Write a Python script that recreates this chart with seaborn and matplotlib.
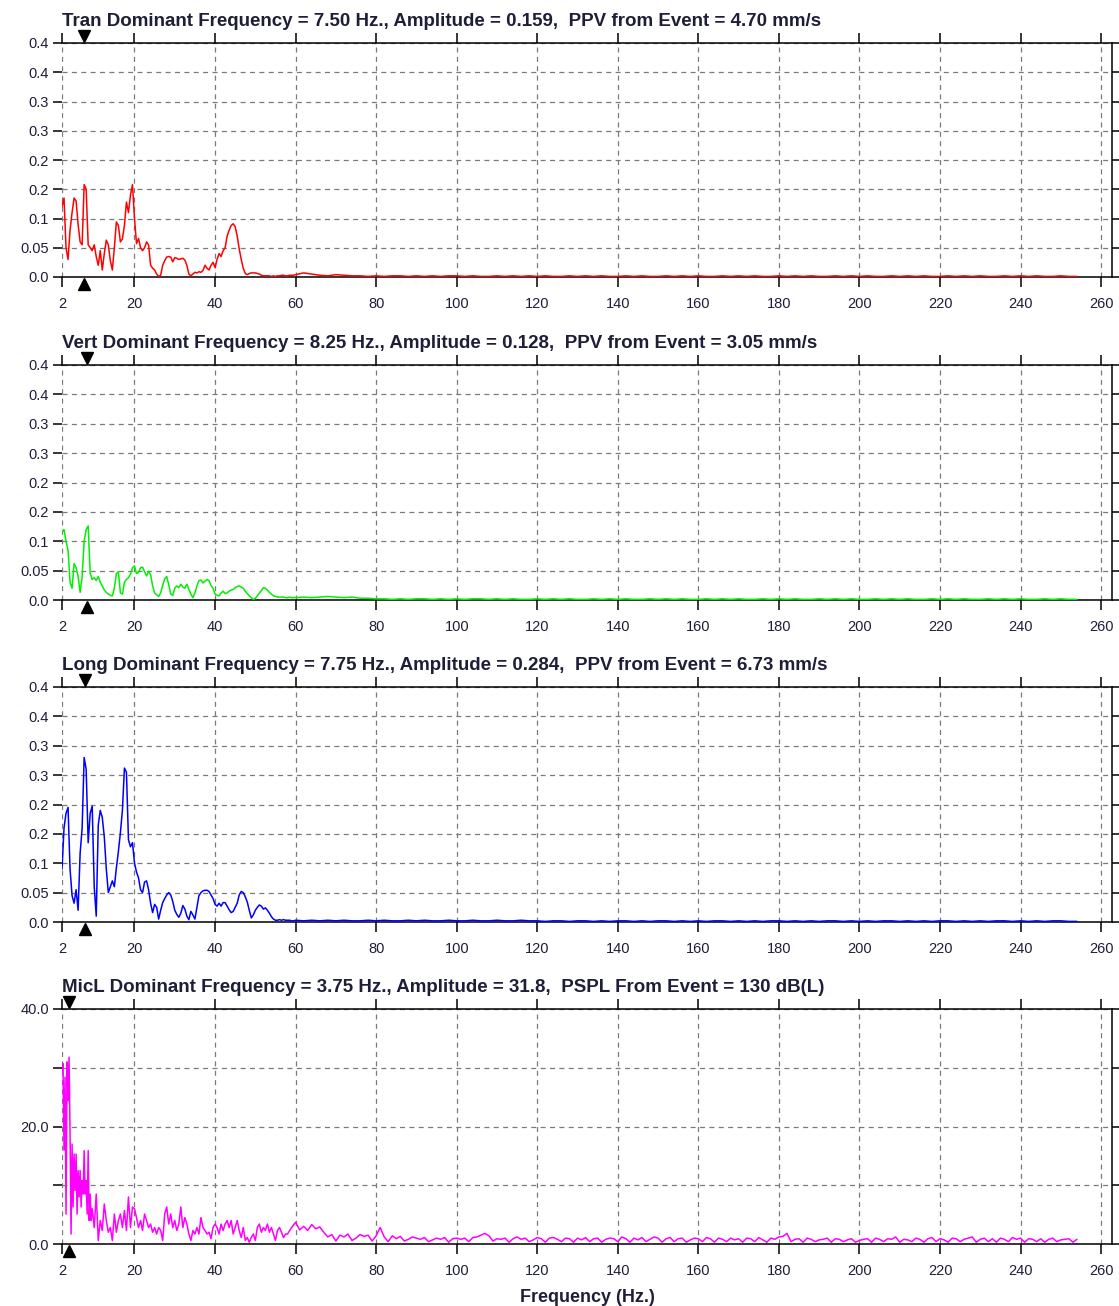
import numpy as np
import pandas as pd
import matplotlib
matplotlib.use("Agg")
import matplotlib.pyplot as plt
import seaborn as sns

# ---------------- data ----------------
titles = [
    "Tran Dominant Frequency = 7.50 Hz., Amplitude = 0.159,  PPV from Event = 4.70 mm/s",
    "Vert Dominant Frequency = 8.25 Hz., Amplitude = 0.128,  PPV from Event = 3.05 mm/s",
    "Long Dominant Frequency = 7.75 Hz., Amplitude = 0.284,  PPV from Event = 6.73 mm/s",
    "MicL Dominant Frequency = 3.75 Hz., Amplitude = 31.8,  PSPL From Event = 130 dB(L)",
]
dominant_freq = [7.50, 8.25, 7.75, 3.75]
colors = ["#ff0000", "#00f000", "#0000ff", "#ff00ff"]

x_ticks = [2, 20, 40, 60, 80, 100, 120, 140, 160, 180, 200, 220, 240, 260]
x_tick_labels = ["2", "20", "40", "60", "80", "100", "120", "140", "160", "180",
                 "200", "220", "240", "260"]
geo_y_ticks = [0.0, 0.05, 0.10, 0.15, 0.20, 0.25, 0.30, 0.35, 0.40]
geo_y_labels = ["0.0", "0.05", "0.1", "0.2", "0.2", "0.3", "0.3", "0.4", "0.4"]
mic_y_ticks = [0, 10, 20, 30, 40]
mic_y_labels = ["0.0", "", "20.0", "", "40.0"]

# Tran: 0.5 Hz steps from 2.0 Hz
tran_low = [
    0.12, 0.135, 0.05, 0.03, 0.08, 0.11, 0.135, 0.13, 0.09, 0.06,
    0.055, 0.158, 0.15, 0.055, 0.05, 0.045, 0.055, 0.035, 0.02, 0.045,
    0.012, 0.04, 0.063, 0.055, 0.028, 0.012, 0.05, 0.094, 0.088, 0.06,
    0.065, 0.088, 0.128, 0.11, 0.14, 0.158, 0.10, 0.057, 0.066, 0.05,
    0.045, 0.05, 0.06, 0.055, 0.02, 0.015, 0.012, 0.005, 0.001, 0.003,
    0.02, 0.028, 0.034, 0.035, 0.034, 0.026, 0.033, 0.032, 0.030, 0.031,
    0.032, 0.029, 0.02, 0.005, 0.002, 0.005, 0.008, 0.007, 0.009, 0.008,
    0.011, 0.02, 0.015, 0.012, 0.02, 0.025, 0.016, 0.03, 0.04, 0.035,
    0.045, 0.05, 0.07, 0.08, 0.088, 0.091, 0.086, 0.07, 0.048, 0.03,
    0.015, 0.006, 0.004, 0.006, 0.007, 0.007, 0.007, 0.006, 0.005, 0.003,
    0.002, 0.002, 0.002, 0.002, 0.001, 0.002, 0.001, 0.002, 0.002, 0.003,
    0.003, 0.002, 0.002, 0.003, 0.003, 0.003,
]
# Tran: 2 Hz steps from 60 Hz
tran_tail = [
    0.004, 0.007, 0.005, 0.003, 0.002, 0.004, 0.003, 0.002, 0.002, 0.001,
    0.002, 0.001, 0.002, 0.002, 0.001, 0.002, 0.001, 0.002, 0.001, 0.002,
    0.002, 0.001, 0.002, 0.001, 0.001, 0.002, 0.001, 0.002, 0.001, 0.002,
    0.001, 0.002, 0.001, 0.001, 0.002, 0.001, 0.002, 0.001, 0.002, 0.001,
    0.001, 0.002, 0.001, 0.002, 0.001, 0.001, 0.002, 0.001, 0.002, 0.001,
    0.002, 0.001, 0.001, 0.002, 0.001, 0.002, 0.001, 0.002, 0.001, 0.001,
    0.002, 0.001, 0.002, 0.001, 0.002, 0.001, 0.001, 0.002, 0.001, 0.002,
    0.001, 0.002, 0.001, 0.001, 0.002, 0.001, 0.002, 0.001, 0.002, 0.001,
    0.001, 0.002, 0.001, 0.002, 0.001, 0.002, 0.001, 0.001, 0.002, 0.001,
    0.002, 0.001, 0.002, 0.001, 0.001, 0.002, 0.001, 0.001,
]

# Vert: 0.5 Hz steps from 2.0 Hz
vert_low = [
    0.115, 0.12, 0.10, 0.085, 0.03, 0.02, 0.062, 0.055, 0.04, 0.013,
    0.04, 0.10, 0.12, 0.126, 0.045, 0.035, 0.038, 0.033, 0.04, 0.03,
    0.024, 0.017, 0.013, 0.01, 0.008, 0.007, 0.02, 0.045, 0.048, 0.012,
    0.01, 0.03, 0.035, 0.038, 0.044, 0.055, 0.058, 0.045, 0.047, 0.055,
    0.056, 0.048, 0.041, 0.049, 0.043, 0.024, 0.012, 0.009, 0.006, 0.012,
    0.025, 0.036, 0.04, 0.026, 0.01, 0.008, 0.02, 0.024, 0.021, 0.027,
    0.022, 0.02, 0.027, 0.018, 0.01, 0.004, 0.012, 0.024, 0.033, 0.034,
    0.029, 0.032, 0.035, 0.033, 0.025, 0.02, 0.01, 0.008, 0.007, 0.012,
    0.015, 0.011, 0.012, 0.015, 0.017, 0.018, 0.021, 0.023, 0.024, 0.022,
    0.02, 0.015, 0.011, 0.007, 0.004, 0.001, 0.003, 0.007, 0.012, 0.016,
    0.021, 0.02, 0.017, 0.013, 0.01, 0.007, 0.006, 0.005, 0.005, 0.005,
    0.005, 0.004, 0.004, 0.005, 0.004, 0.004,
]
vert_tail = [
    0.004, 0.005, 0.004, 0.005, 0.006, 0.005, 0.004, 0.005, 0.003, 0.003,
    0.002, 0.002, 0.001, 0.002, 0.001, 0.002, 0.002, 0.001, 0.002, 0.001,
    0.002, 0.001, 0.002, 0.002, 0.001, 0.002, 0.001, 0.002, 0.001, 0.001,
    0.002, 0.001, 0.002, 0.001, 0.002, 0.001, 0.001, 0.002, 0.001, 0.002,
    0.001, 0.002, 0.001, 0.001, 0.002, 0.001, 0.002, 0.001, 0.002, 0.001,
    0.001, 0.002, 0.001, 0.002, 0.001, 0.002, 0.001, 0.001, 0.002, 0.001,
    0.002, 0.001, 0.002, 0.001, 0.001, 0.002, 0.001, 0.002, 0.001, 0.002,
    0.001, 0.001, 0.002, 0.001, 0.002, 0.001, 0.002, 0.001, 0.001, 0.002,
    0.001, 0.002, 0.001, 0.002, 0.001, 0.001, 0.002, 0.001, 0.002, 0.001,
    0.002, 0.001, 0.001, 0.002, 0.001, 0.002, 0.001, 0.001,
]

# Long: 0.5 Hz steps from 2.0 Hz
long_low = [
    0.09, 0.16, 0.185, 0.195, 0.09, 0.045, 0.032, 0.055, 0.02, 0.117,
    0.16, 0.28, 0.26, 0.135, 0.185, 0.197, 0.06, 0.01, 0.165, 0.19,
    0.178, 0.145, 0.09, 0.05, 0.06, 0.07, 0.06, 0.092, 0.12, 0.152,
    0.19, 0.262, 0.255, 0.14, 0.128, 0.135, 0.10, 0.085, 0.075, 0.055,
    0.05, 0.068, 0.07, 0.055, 0.032, 0.016, 0.03, 0.025, 0.005, 0.02,
    0.033, 0.04, 0.046, 0.05, 0.046, 0.035, 0.02, 0.013, 0.008, 0.015,
    0.028, 0.022, 0.01, 0.004, 0.018, 0.012, 0.005, 0.025, 0.045, 0.05,
    0.053, 0.054, 0.054, 0.052, 0.046, 0.04, 0.03, 0.027, 0.032, 0.027,
    0.033, 0.033, 0.027, 0.021, 0.016, 0.018, 0.025, 0.032, 0.046, 0.052,
    0.05, 0.043, 0.034, 0.02, 0.007, 0.012, 0.02, 0.025, 0.029, 0.027,
    0.022, 0.024, 0.02, 0.015, 0.009, 0.005, 0.003, 0.003, 0.004, 0.003,
    0.004, 0.003, 0.003, 0.003, 0.002, 0.002,
]
long_tail = [
    0.003, 0.002, 0.003, 0.002, 0.003, 0.002, 0.003, 0.002, 0.002, 0.003,
    0.002, 0.003, 0.002, 0.002, 0.003, 0.002, 0.003, 0.002, 0.002, 0.003,
    0.002, 0.002, 0.003, 0.002, 0.002, 0.003, 0.002, 0.002, 0.003, 0.002,
    0.002, 0.001, 0.002, 0.002, 0.001, 0.002, 0.002, 0.001, 0.002, 0.001,
    0.002, 0.002, 0.001, 0.002, 0.001, 0.002, 0.002, 0.001, 0.002, 0.001,
    0.002, 0.001, 0.002, 0.002, 0.001, 0.002, 0.001, 0.002, 0.001, 0.002,
    0.002, 0.001, 0.002, 0.001, 0.002, 0.001, 0.002, 0.002, 0.001, 0.002,
    0.001, 0.002, 0.001, 0.002, 0.002, 0.001, 0.002, 0.001, 0.002, 0.001,
    0.002, 0.002, 0.001, 0.002, 0.001, 0.002, 0.001, 0.002, 0.002, 0.001,
    0.002, 0.001, 0.002, 0.001, 0.002, 0.002, 0.001, 0.001,
]

# MicL: 0.25 Hz steps 2.0-10.0 Hz
mic_low_a = [
    29.3, 30.7, 16.0, 28.4, 5.1, 31.0, 24.4, 31.8, 18.8, 1.7,
    17.0, 6.3, 15.3, 9.1, 15.3, 5.1, 12.5, 8.0, 12.5, 6.3,
    10.8, 8.5, 15.9, 8.5, 10.8, 5.1, 15.9, 4.0, 8.5, 4.0,
    6.0, 4.5, 2.8,
]
# MicL: 0.5 Hz steps 10.5-57.5 Hz
mic_low_b = [
    8.5, 0.6, 4.0, 2.3, 6.8, 4.0, 2.0, 2.8, 0.6, 5.1,
    2.0, 4.0, 5.1, 2.8, 5.7, 2.3, 8.0, 2.8, 6.3, 6.0,
    4.5, 2.8, 4.0, 2.3, 5.1, 4.0, 2.8, 3.4, 2.0, 2.8,
    1.7, 2.8, 2.3, 0.6, 5.1, 6.3, 3.4, 5.1, 2.8, 4.0,
    2.3, 3.4, 6.3, 2.8, 4.5, 3.4, 1.7, 0.6, 2.3, 1.7,
    2.8, 1.7, 4.5, 2.8, 2.3, 1.7, 2.0, 0.9, 2.8, 3.4,
    2.8, 1.7, 3.4, 2.3, 3.4, 4.0, 2.8, 4.0, 1.7, 2.8,
    4.0, 2.3, 1.1, 2.8, 0.6, 1.1, 0.3, 1.1, 1.7, 0.6,
    2.8, 3.4, 2.0, 2.8, 2.3, 3.4, 2.0, 2.8, 1.7, 0.6,
    2.3, 2.8, 2.0, 1.1, 1.7,
]
# MicL: 1 Hz steps 58-254 Hz
mic_tail = [
    1.7, 2.8, 3.7, 2.4, 3.0, 2.3, 3.3, 2.6, 2.9, 2.0,
    1.2, 1.6, 0.5, 1.5, 1.2, 1.7, 0.6, 1.0, 1.6, 1.3, 1.5, 0.5, 1.4,
    2.8, 1.2, 0.4, 1.4, 0.9, 1.3, 0.5, 0.8, 1.2, 1.0,
    0.8, 1.1, 0.4, 0.7, 1.0, 0.8, 1.1, 0.3, 0.9, 1.0,
    0.8, 1.0, 0.4, 1.1, 1.2, 1.5, 1.8, 1.4, 0.5, 0.9,
    0.8, 1.0, 0.3, 0.9, 1.2, 0.8, 1.0, 0.4, 0.7, 1.1,
    0.9, 0.3, 1.0, 1.1, 0.8, 0.4, 1.0, 0.9, 0.3, 1.0,
    0.7, 1.1, 0.4, 0.9, 1.0, 0.3, 0.8, 1.0, 0.9, 0.4,
    1.2, 0.9, 0.3, 1.0, 0.7, 1.1, 0.4, 0.8, 1.2, 1.0,
    0.3, 0.9, 1.1, 0.4, 0.9, 1.0, 0.3, 0.7, 1.0, 0.9,
    0.4, 1.1, 0.9, 0.3, 1.0, 0.8, 0.4, 1.0, 0.7, 0.9,
    0.3, 1.0, 0.9, 0.4, 1.1, 0.7, 0.3, 1.0, 0.8, 1.2,
    1.3, 1.8, 0.4, 0.8, 0.9, 0.3, 1.0, 0.8, 0.4, 0.7,
    0.8, 1.0, 0.3, 0.9, 0.8, 0.4, 0.7, 0.9, 0.3, 0.6,
    0.8, 0.9, 0.3, 1.0, 0.8, 0.4, 0.9, 0.8, 1.2, 0.3,
    0.8, 0.7, 0.4, 1.0, 0.8, 0.3, 0.9, 1.1, 0.4, 0.9,
    0.7, 0.3, 1.0, 0.9, 0.4, 0.8, 1.0, 1.2, 0.3, 0.8,
    1.0, 0.4, 0.9, 0.3, 1.0, 0.8, 0.4, 1.1, 0.8, 1.0,
    0.3, 0.9, 0.8, 0.4, 0.9, 0.3, 0.8, 1.0, 0.4, 0.7,
    0.8, 0.9, 0.3, 0.8,
]


def build(parts):
    """parts: list of (start_freq, step, values)."""
    f, v = [], []
    for start, step, vals in parts:
        f.extend(start + step * np.arange(len(vals)))
        v.extend(vals)
    return pd.DataFrame({"freq": f, "amp": v})


series = [
    build([(2.0, 0.5, tran_low), (60.0, 2.0, tran_tail)]),
    build([(2.0, 0.5, vert_low), (60.0, 2.0, vert_tail)]),
    build([(2.0, 0.5, long_low), (60.0, 2.0, long_tail)]),
    build([(2.0, 0.25, mic_low_a), (10.5, 0.5, mic_low_b), (58.0, 1.0, mic_tail)]),
]

# ---------------- style ----------------
sns.set_style("white")
plt.rcParams["font.family"] = ["Liberation Sans", "DejaVu Sans"]
text_color = "#1e1e38"

W, H = 1119, 1306
fig = plt.figure(figsize=(W / 100, H / 100), dpi=100)

tops = [43, 365, 687, 1009]
bottoms = [277, 600, 922, 1244]
left_px, right_px = 62, 1112

for i in range(4):
    ax = fig.add_axes([left_px / W, (H - bottoms[i]) / H,
                       (right_px - left_px) / W, (bottoms[i] - tops[i]) / H])
    df = series[i]
    sns.lineplot(data=df, x="freq", y="amp", ax=ax, color=colors[i],
                 linewidth=1.1, estimator=None, errorbar=None, zorder=3)
    ax.set_xlim(2, 262.7)
    if i < 3:
        ax.set_ylim(0, 0.4)
        ax.set_yticks(geo_y_ticks)
        ax.set_yticklabels(geo_y_labels)
    else:
        ax.set_ylim(0, 40)
        ax.set_yticks(mic_y_ticks)
        ax.set_yticklabels(mic_y_labels)
    ax.set_xticks(x_ticks)
    ax.set_xticklabels(x_tick_labels)

    ax.grid(True, color="#7a7a7a", linestyle=(0, (4, 3.5)), linewidth=0.9, zorder=0)
    for s in ["top", "bottom", "right"]:
        ax.spines[s].set_visible(True)
        ax.spines[s].set_color("black")
        ax.spines[s].set_linewidth(1.1)
    ax.spines["left"].set_visible(False)

    ax.tick_params(axis="x", which="both", direction="out", length=7, width=1.1,
                   color="black", top=True, bottom=True, labeltop=False,
                   labelsize=10.5, labelcolor=text_color, pad=7.5)
    ax.tick_params(axis="y", which="both", direction="out", length=6.5, width=1.1,
                   color="black", left=True, right=True, labelright=False,
                   labelsize=10.5, labelcolor=text_color, pad=3)
    ax.set_xlabel("")
    ax.set_ylabel("")

    trans = ax.get_xaxis_transform()
    ax.plot([dominant_freq[i]], [1.03], marker="v", color="black", markersize=9,
            transform=trans, clip_on=False, zorder=5)
    ax.plot([dominant_freq[i]], [-0.03], marker="^", color="black", markersize=9,
            transform=trans, clip_on=False, zorder=5)

    ax.annotate(titles[i], xy=(0, 1), xycoords="axes fraction",
                xytext=(0, 15.5), textcoords="offset points",
                ha="left", va="center", fontsize=13.5, fontweight="bold",
                color=text_color)

    if i == 3:
        ax.set_xlabel("Frequency (Hz.)", fontsize=13, fontweight="bold",
                      color=text_color, labelpad=8)

fig.savefig("out.png", dpi=100)
